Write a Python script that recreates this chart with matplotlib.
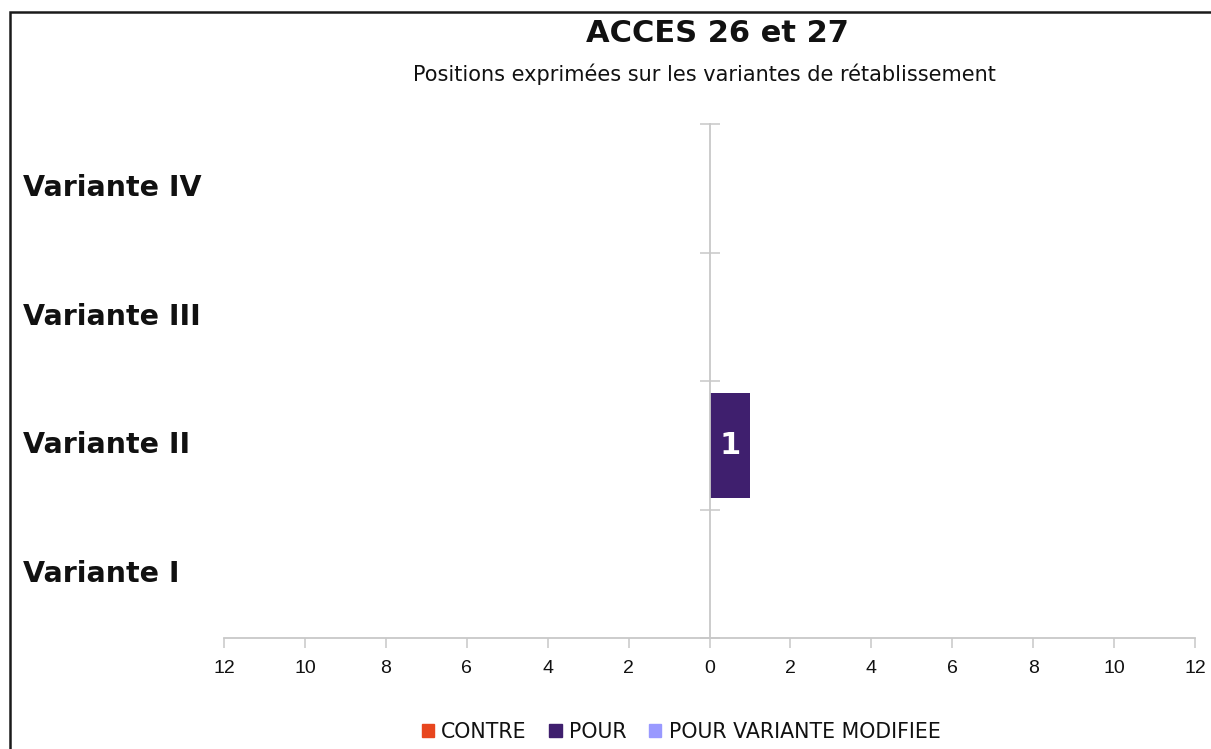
import matplotlib
matplotlib.use("Agg")
import matplotlib.pyplot as plt
from matplotlib.patches import Rectangle
from matplotlib.ticker import FixedLocator, FuncFormatter
import numpy as np

# ---- data ----
categories = ["Variante I", "Variante II", "Variante III", "Variante IV"]
contre = [0, 0, 0, 0]
pour = [0, 1, 0, 0]
pour_modifiee = [0, 0, 0, 0]
series_names = ["CONTRE", "POUR", "POUR VARIANTE MODIFIEE"]
series_colors = ["#e8461e", "#3f1f6e", "#9999ff"]
x_ticks = [-12, -10, -8, -6, -4, -2, 0, 2, 4, 6, 8, 10, 12]
title = "ACCES 26 et 27"
subtitle = "Positions exprimées sur les variantes de rétablissement"

W, H = 1211, 749
DPI = 100
fig = plt.figure(figsize=(W / DPI, H / DPI), dpi=DPI)
fig.patch.set_facecolor("white")

def fx(px):
    return px / W

def fy(py):
    return 1 - py / H

ax = fig.add_axes([fx(224), fy(638), fx(1195) - fx(224), fy(124) - fy(638)])
ax.set_facecolor("none")

y = np.arange(len(categories))
bh = 0.82
ax.barh(y, [-v for v in contre], height=bh, left=0, color=series_colors[0], label=series_names[0])
ax.barh(y, pour, height=bh, left=0, color=series_colors[1], label=series_names[1])
ax.barh(y, pour_modifiee, height=bh, left=pour, color=series_colors[2], label=series_names[2])

# value labels inside bars
for i, v in enumerate(pour):
    if v:
        ax.text(v / 2, y[i], str(v), ha="center", va="center", color="white",
                fontsize=22, fontweight="bold", family="DejaVu Sans")

ax.set_xlim(x_ticks[0], x_ticks[-1])
ax.set_ylim(-0.5, len(categories) - 0.5)

axis_gray = "#c8c8c8"
for s in ["top", "right"]:
    ax.spines[s].set_visible(False)
ax.spines["left"].set_position(("data", 0))
ax.spines["left"].set_color(axis_gray)
ax.spines["left"].set_linewidth(1.3)
ax.spines["bottom"].set_color(axis_gray)
ax.spines["bottom"].set_linewidth(1.3)

ax.xaxis.set_major_locator(FixedLocator(x_ticks))
ax.xaxis.set_major_formatter(FuncFormatter(lambda v, p: f"{abs(int(round(v)))}"))
ax.tick_params(axis="x", direction="out", length=7.5, width=1.1, color=axis_gray,
               pad=8, labelsize=14, labelcolor="#111111")
for lab in ax.get_xticklabels():
    lab.set_family("Liberation Sans")

ax.yaxis.set_major_locator(FixedLocator(np.arange(-0.5, len(categories), 1.0)))
ax.tick_params(axis="y", direction="inout", length=14, width=1.1, color=axis_gray, labelleft=False)

# category labels on the far left
blend = matplotlib.transforms.blended_transform_factory(fig.transFigure, ax.transData)
for i, c in enumerate(categories):
    ax.text(fx(23), y[i], c, transform=blend, ha="left", va="center", fontsize=20.5,
            fontweight="bold", family="DejaVu Sans", color="#111111")

# titles
fig.text(fx(717), fy(33), title, ha="center", va="center", fontsize=22, fontweight="bold",
         family="DejaVu Sans", color="#111111")
fig.text(fx(704), fy(74), subtitle, ha="center", va="center", fontsize=15,
         family="DejaVu Sans", color="#111111")

# legend
handles = [Rectangle((0, 0), 1, 1, color=c) for c in series_colors]
leg = fig.legend(handles, series_names, loc="center", bbox_to_anchor=(fx(681), fy(732)),
                 ncol=3, frameon=False, fontsize=14.8, handlelength=0.6, handleheight=0.6,
                 handletextpad=0.35, columnspacing=1.1, borderpad=0, borderaxespad=0)
for t in leg.get_texts():
    t.set_family("DejaVu Sans")
    t.set_color("#111111")

# outer frame (top and left visible)
fig.patches.append(Rectangle((fx(9.5), fy(760)), fx(1220) - fx(9.5), fy(12) - fy(760),
                             transform=fig.transFigure, fill=False, edgecolor="#1a1a1a",
                             linewidth=1.8, figure=fig))

fig.savefig("out.png", dpi=DPI, facecolor="white")
